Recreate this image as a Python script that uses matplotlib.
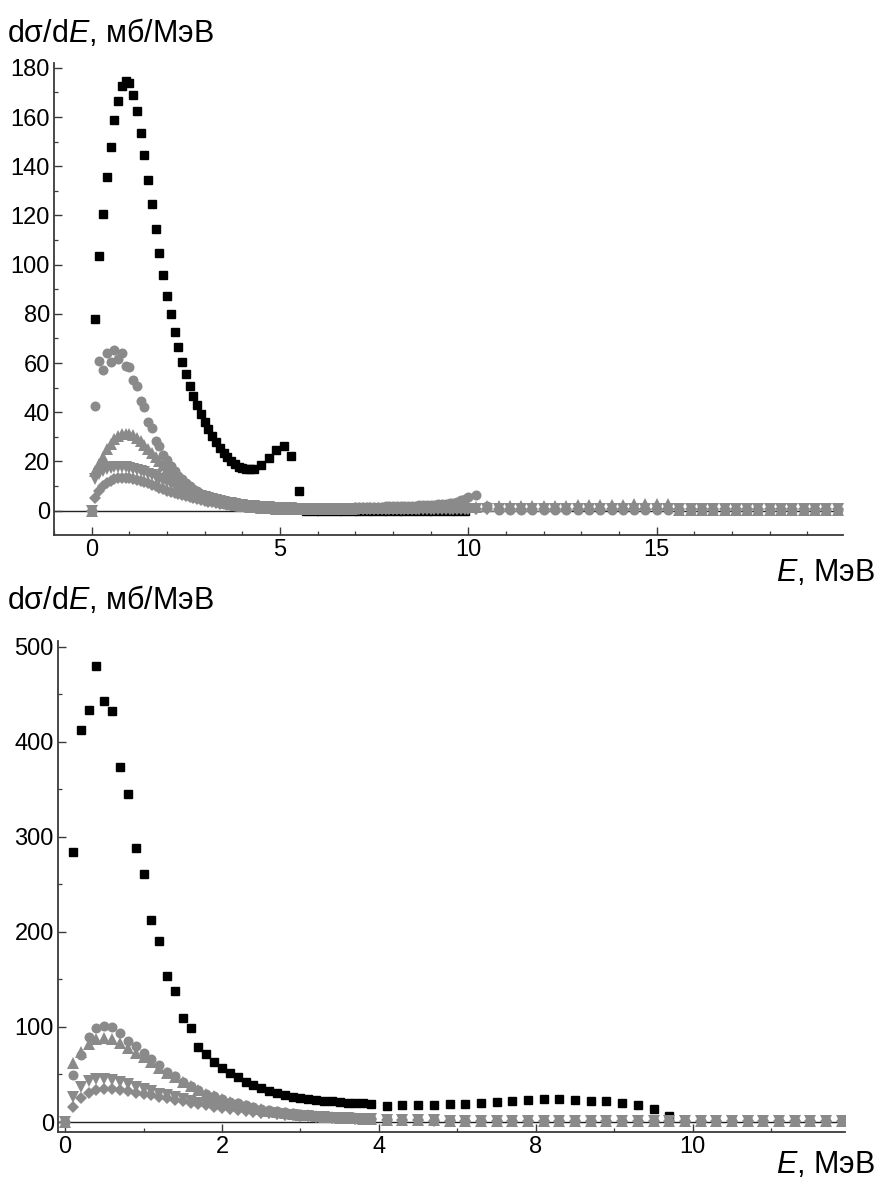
import numpy as np
import matplotlib.pyplot as plt
from matplotlib.ticker import FixedLocator, MultipleLocator

plt.rcParams['font.family'] = ['Liberation Sans', 'DejaVu Sans']
plt.rcParams['mathtext.fontset'] = 'custom'
plt.rcParams['mathtext.it'] = 'Liberation Sans:italic'
plt.rcParams['mathtext.rm'] = 'Liberation Sans'

# ---------------- upper panel data ----------------
e_top_black = np.concatenate([np.round(np.arange(0.1, 4.35, 0.1), 1),
                              np.round(np.arange(4.5, 5.55, 0.2), 1),
                              np.round(np.arange(5.7, 9.95, 0.2), 1)])
top_black = [77.8, 103.5, 120.6, 135.6, 147.7, 158.8, 166.7, 172.8, 174.8, 173.7,
             168.9, 162.6, 153.7, 144.6, 134.6, 124.7, 114.5, 104.6, 95.8, 87.4,
             79.8, 72.8, 66.4, 60.6, 55.6, 50.8, 46.7, 42.8, 39.3, 36.1,
             33.1, 30.4, 27.8, 25.6, 23.6, 21.8, 20.2, 18.9, 17.9, 17.4,
             16.9, 16.8, 17.0,
             18.6, 21.4, 24.7, 26.2, 22.2, 8.1,
             0.0, 0.0, 0.0, 0.0, 0.0, 0.0, 0.0, 0.0, 0.0, 0.0, 0.0,
             0.0, 0.0, 0.0, 0.0, 0.0, 0.0, 0.0, 0.0, 0.0, 0.0, 0.0]

e_top_gray = np.concatenate([np.round(np.arange(0.0, 10.05, 0.1), 1),
                             np.round(np.arange(10.2, 19.85, 0.3), 1)])
top_circ = [0.0, 42.6, 60.8, 57.3, 64.0, 60.6, 65.2, 61.5, 64.2, 58.8,
            58.5, 53.1, 50.7, 44.7, 42.3, 36.1, 33.7, 28.5, 26.3, 22.8,
            20.5, 18.0, 16.2, 14.2, 12.7, 11.2, 10.0, 8.8, 7.8, 6.9,
            6.1, 5.4, 4.8, 4.3, 3.8, 3.4, 3.0, 2.7, 2.4, 2.2,
            2.0, 1.8, 1.6, 1.5, 1.4, 1.3, 1.2, 1.1, 1.0, 1.0,
            0.9, 0.9, 0.8, 0.8, 0.8, 0.8, 0.8, 0.8, 0.8, 0.8,
            0.9, 0.9, 0.9, 1.0, 1.0, 1.0, 1.1, 1.1, 1.2, 1.2,
            1.3, 1.3, 1.4, 1.4, 1.5, 1.5, 1.6, 1.6, 1.7, 1.7,
            1.8, 1.8, 1.9, 1.9, 2.0, 2.0, 2.1, 2.2, 2.2, 2.3,
            2.4, 2.5, 2.6, 2.7, 2.8, 3.0, 3.3, 3.7, 4.2, 4.8,
            5.4,
            6.3, 2.0, 0.3, 0.3, 0.3, 0.3, 0.3, 0.3, 0.3, 0.3, 0.3,
            0.3, 0.3, 0.3, 0.3, 0.3, 0.3, 0.3, 0.3, 0.3, 0.3, 0.3,
            0.3, 0.3, 0.3, 0.3, 0.3, 0.3, 0.3, 0.3, 0.3, 0.3, 0.3]
top_tri_up = [0.0, 16.0, 19.0, 22.0, 25.0, 27.2, 29.0, 30.3, 31.0, 31.3,
              31.2, 30.6, 29.6, 28.3, 26.8, 25.2, 23.5, 21.8, 20.1, 18.4,
              16.8, 15.3, 13.9, 12.6, 11.4, 10.3, 9.3, 8.4, 7.6, 6.8,
              6.1, 5.5, 4.9, 4.4, 3.9, 3.5, 3.1, 2.8, 2.5, 2.2,
              2.0, 1.8, 1.6, 1.5, 1.3, 1.2, 1.1, 1.0, 0.9, 0.8,
              0.8, 0.7, 0.7, 0.7, 0.6, 0.6, 0.6, 0.6, 0.6, 0.6,
              0.6, 0.6, 0.7, 0.7, 0.7, 0.7, 0.8, 0.8, 0.8, 0.8,
              0.9, 0.9, 0.9, 0.9, 1.0, 1.0, 1.0, 1.0, 1.1, 1.1,
              1.1, 1.1, 1.2, 1.2, 1.2, 1.2, 1.3, 1.3, 1.3, 1.3,
              1.4, 1.4, 1.4, 1.4, 1.5, 1.5, 1.5, 1.5, 1.6, 1.6,
              1.6,
              1.6, 1.7, 1.8, 1.8, 1.9, 1.9, 2.0, 2.0, 2.1, 2.2, 2.2,
              2.3, 2.4, 2.5, 2.6, 2.7, 2.8, 2.9, 0.3, 0.3, 0.3, 0.3,
              0.3, 0.3, 0.3, 0.3, 0.3, 0.3, 0.3, 0.3, 0.3, 0.3, 0.3]
top_tri_dn = [0.0, 13.0, 15.0, 16.3, 17.0, 17.4, 17.6, 17.7, 17.7, 17.6,
              17.4, 17.1, 16.7, 16.2, 15.6, 15.0, 14.3, 13.6, 12.9, 12.2,
              11.5, 10.8, 10.1, 9.4, 8.8, 8.2, 7.6, 7.0, 6.5, 6.0,
              5.5, 5.1, 4.7, 4.3, 3.9, 3.6, 3.3, 3.0, 2.8, 2.5,
              2.3, 2.1, 1.9, 1.8, 1.6, 1.5, 1.4, 1.3, 1.2, 1.1,
              1.0, 1.0, 0.9, 0.9, 0.8, 0.8, 0.8, 0.7, 0.7, 0.7,
              0.7, 0.7, 0.7, 0.7, 0.7, 0.7, 0.7, 0.7, 0.7, 0.7,
              0.7, 0.7, 0.7, 0.7, 0.7, 0.7, 0.7, 0.7, 0.7, 0.7,
              0.7, 0.7, 0.7, 0.7, 0.7, 0.7, 0.7, 0.7, 0.7, 0.7,
              0.7, 0.7, 0.7, 0.7, 0.7, 0.7, 0.7, 0.7, 0.7, 0.7,
              0.7,
              0.6, 0.6, 0.6, 0.6, 0.6, 0.6, 0.6, 0.6, 0.6, 0.6, 0.6,
              0.6, 0.6, 0.6, 0.6, 0.6, 0.6, 0.6, 0.5, 0.5, 0.5, 0.5,
              0.5, 0.5, 0.5, 0.5, 0.5, 0.5, 0.5, 0.5, 0.5, 0.5, 0.5]
top_diam = [0.0, 5.0, 8.0, 10.0, 11.3, 12.2, 12.8, 13.2, 13.4, 13.4,
            13.3, 13.0, 12.6, 12.2, 11.7, 11.2, 10.6, 10.0, 9.4, 8.8,
            8.2, 7.7, 7.2, 6.7, 6.2, 5.8, 5.4, 5.0, 4.6, 4.3,
            4.0, 3.7, 3.4, 3.1, 2.9, 2.7, 2.5, 2.3, 2.1, 2.0,
            1.8, 1.7, 1.6, 1.5, 1.4, 1.3, 1.2, 1.1, 1.0, 1.0,
            0.9, 0.9, 0.8, 0.8, 0.8, 0.7, 0.7, 0.7, 0.7, 0.6,
            0.6, 0.6, 0.6, 0.6, 0.6, 0.6, 0.6, 0.6, 0.6, 0.6,
            0.6, 0.6, 0.6, 0.6, 0.6, 0.6, 0.6, 0.6, 0.6, 0.6,
            0.6, 0.6, 0.6, 0.6, 0.6, 0.6, 0.6, 0.6, 0.6, 0.6,
            0.6, 0.6, 0.6, 0.6, 0.6, 0.6, 0.6, 0.6, 0.6, 0.6,
            0.6,
            0.5, 0.5, 0.5, 0.5, 0.5, 0.5, 0.5, 0.5, 0.5, 0.5, 0.5,
            0.5, 0.5, 0.5, 0.5, 0.5, 0.5, 0.5, 0.5, 0.5, 0.5, 0.5,
            0.5, 0.5, 0.5, 0.5, 0.5, 0.5, 0.5, 0.5, 0.5, 0.5, 0.5]

# ---------------- lower panel data ----------------
e_bot_black = np.concatenate([np.round(np.arange(0.1, 3.95, 0.1), 1),
                              np.round(np.arange(4.2, 7.85, 0.4), 1),
                              np.round(np.arange(8.1, 9.75, 0.2), 1)])
bot_black = [284, 412, 433, 480, 443, 432, 373, 345, 288, 261,
             213, 190, 154, 138, 109, 99, 79, 72, 63, 56.5,
             52, 47, 42.5, 39, 35.4, 33, 30.2, 28.4, 26.6, 25.3,
             24.3, 23.3, 22.5, 21.8, 21.1, 20.5, 20.0, 19.5, 19.0,
             17.2, 17.9, 17.9, 17.9, 18.6, 19.3, 20.4, 21.0, 22.4, 23.2,
             23.9, 24.2, 23.2, 22.4, 21.8, 20.0, 17.9, 13.4, 6.6]

e_bot_gray = np.concatenate([np.round(np.arange(0.0, 3.95, 0.1), 1),
                             np.round(np.arange(4.2, 7.85, 0.4), 1),
                             np.round(np.arange(8.1, 11.95, 0.2), 1)])
bot_circ = [0, 49, 70, 89, 99, 101, 100, 94, 85, 80,
            73, 66, 60, 53, 48, 42, 38, 34, 30, 27,
            24, 21.5, 19.5, 17.5, 15.5, 14, 12.5, 11.3, 10.2, 9.2,
            8.3, 7.5, 6.8, 6.2, 5.6, 5.1, 4.7, 4.3, 3.9, 3.6,
            3.0, 2.6, 2.3, 2.0, 1.8, 1.6, 1.5, 1.4, 1.3, 1.2,
            1.1, 1.1, 1.1, 1.0, 1.0, 1.0, 1.0, 1.0, 0.9, 0.9,
            0.9, 0.9, 0.9, 0.9, 0.8, 0.8, 0.8, 0.8, 0.8, 0.8]
bot_tri_up = [0, 62, 74, 82, 87, 88, 87, 83, 78, 73,
              68, 63, 57, 52, 47, 42, 38, 34, 30, 27,
              24, 21, 19, 17, 15, 13.5, 12, 10.8, 9.7, 8.7,
              7.8, 7.0, 6.3, 5.7, 5.1, 4.6, 4.2, 3.8, 3.4, 3.1,
              2.6, 2.2, 1.9, 1.7, 1.5, 1.4, 1.3, 1.2, 1.1, 1.0,
              1.0, 1.0, 0.9, 0.9, 0.9, 0.9, 0.9, 0.8, 0.8, 0.8,
              0.8, 0.8, 0.8, 0.8, 0.7, 0.7, 0.7, 0.7, 0.7, 0.7]
bot_tri_dn = [0, 26, 37, 43, 45, 45, 44, 42, 40, 37,
              35, 32.5, 30, 28, 26, 24, 22, 20, 18.5, 17,
              15.5, 14, 13, 12, 11, 10, 9.2, 8.4, 7.7, 7.0,
              6.4, 5.9, 5.4, 5.0, 4.6, 4.2, 3.9, 3.6, 3.3, 3.0,
              2.6, 2.2, 1.9, 1.7, 1.5, 1.4, 1.3, 1.2, 1.1, 1.0,
              1.0, 1.0, 0.9, 0.9, 0.9, 0.9, 0.9, 0.8, 0.8, 0.8,
              0.8, 0.8, 0.8, 0.8, 0.7, 0.7, 0.7, 0.7, 0.7, 0.7]
bot_diam = [0, 16, 25, 31, 34, 35, 35, 34, 33, 31,
            29.5, 28, 26.5, 25, 23.5, 22, 20.5, 19, 17.6, 16.3,
            15, 13.8, 12.7, 11.7, 10.7, 9.8, 9.0, 8.3, 7.6, 7.0,
            6.4, 5.9, 5.4, 5.0, 4.6, 4.2, 3.8, 3.5, 3.2, 2.9,
            2.5, 2.1, 1.8, 1.6, 1.4, 1.3, 1.2, 1.1, 1.0, 1.0,
            0.9, 0.9, 0.9, 0.9, 0.8, 0.8, 0.8, 0.8, 0.8, 0.8,
            0.7, 0.7, 0.7, 0.7, 0.7, 0.7, 0.7, 0.7, 0.7, 0.7]

GRAY = '#8a8a8a'
SPINE = '#3a3a3a'


def e_fwd(e):
    # lower panel axis: compressed between 4 and 8 MeV
    e = np.asarray(e, dtype=float)
    return np.where(e <= 4, e, np.where(e <= 8, 4 + (e - 4) / 2, 6 + (e - 8)))


def e_inv(d):
    d = np.asarray(d, dtype=float)
    return np.where(d <= 4, d, np.where(d <= 6, 4 + 2 * (d - 4), 8 + (d - 6)))


def style_axes(ax):
    for s in ['top', 'right']:
        ax.spines[s].set_visible(False)
    for s in ['left', 'bottom']:
        ax.spines[s].set_color(SPINE)
        ax.spines[s].set_linewidth(1.3)
    ax.tick_params(which='major', direction='in', length=5.5, width=1.0,
                   color=SPINE, labelsize=17, pad=3)
    ax.tick_params(which='minor', direction='in', length=3, width=0.9, color=SPINE)
    ax.axhline(0, color='#222222', lw=1.0, zorder=1)


def gray_series(ax, e, c, tu, td, dm):
    ax.plot(e, dm, 'D', color=GRAY, ms=5.8, mew=0, zorder=3)
    ax.plot(e, td, 'v', color=GRAY, ms=8, mew=0, zorder=3)
    ax.plot(e, tu, '^', color=GRAY, ms=8, mew=0, zorder=3)
    ax.plot(e, c, 'o', color=GRAY, ms=7.2, mew=0, zorder=3)


fig = plt.figure(figsize=(8.78, 11.79), dpi=100)

# upper panel
ax1 = fig.add_axes([0.0615, 0.5462, 0.8985, 0.4004])
ax1.plot(e_top_black, top_black, 's', color='black', ms=6, zorder=2)
gray_series(ax1, e_top_gray, top_circ, top_tri_up, top_tri_dn, top_diam)
ax1.set_xlim(-1.0, 19.94)
ax1.set_ylim(-9.9, 182)
ax1.xaxis.set_major_locator(FixedLocator([0, 5, 10, 15]))
ax1.xaxis.set_minor_locator(MultipleLocator(1))
ax1.yaxis.set_major_locator(MultipleLocator(20))
ax1.yaxis.set_minor_locator(MultipleLocator(10))
style_axes(ax1)

# lower panel
ax2 = fig.add_axes([0.0661, 0.0401, 0.8963, 0.4162])
ax2.plot(e_bot_black, bot_black, 's', color='black', ms=6, zorder=2)
gray_series(ax2, e_bot_gray, bot_circ, bot_tri_up, bot_tri_dn, bot_diam)
ax2.set_xscale('function', functions=(e_fwd, e_inv))
ax2.set_xlim(-0.09, 11.94)
ax2.set_ylim(-10.2, 506)
ax2.xaxis.set_major_locator(FixedLocator([0, 2, 4, 8, 10]))
ax2.xaxis.set_minor_locator(FixedLocator([1, 3, 6, 9, 11]))
ax2.xaxis.set_major_formatter(plt.FuncFormatter(lambda v, p: '%g' % v))
ax2.xaxis.set_minor_formatter(plt.NullFormatter())
ax2.yaxis.set_major_locator(MultipleLocator(100))
ax2.yaxis.set_minor_locator(MultipleLocator(50))
style_axes(ax2)

ylab = 'd\u03c3/d$\\mathit{E}$, мб/МэВ'
xlab = '$\\mathit{E}$, МэВ'
fig.text(0.008, 1 - 33 / 1179, ylab, fontsize=22, va='center', ha='left')
fig.text(0.008, 1 - 600 / 1179, ylab, fontsize=22, va='center', ha='left')
fig.text(0.997, 1 - 573 / 1179, xlab, fontsize=22, va='center', ha='right')
fig.text(0.997, 1 - 1165 / 1179, xlab, fontsize=22, va='center', ha='right')

fig.savefig('out.png', dpi=100)
